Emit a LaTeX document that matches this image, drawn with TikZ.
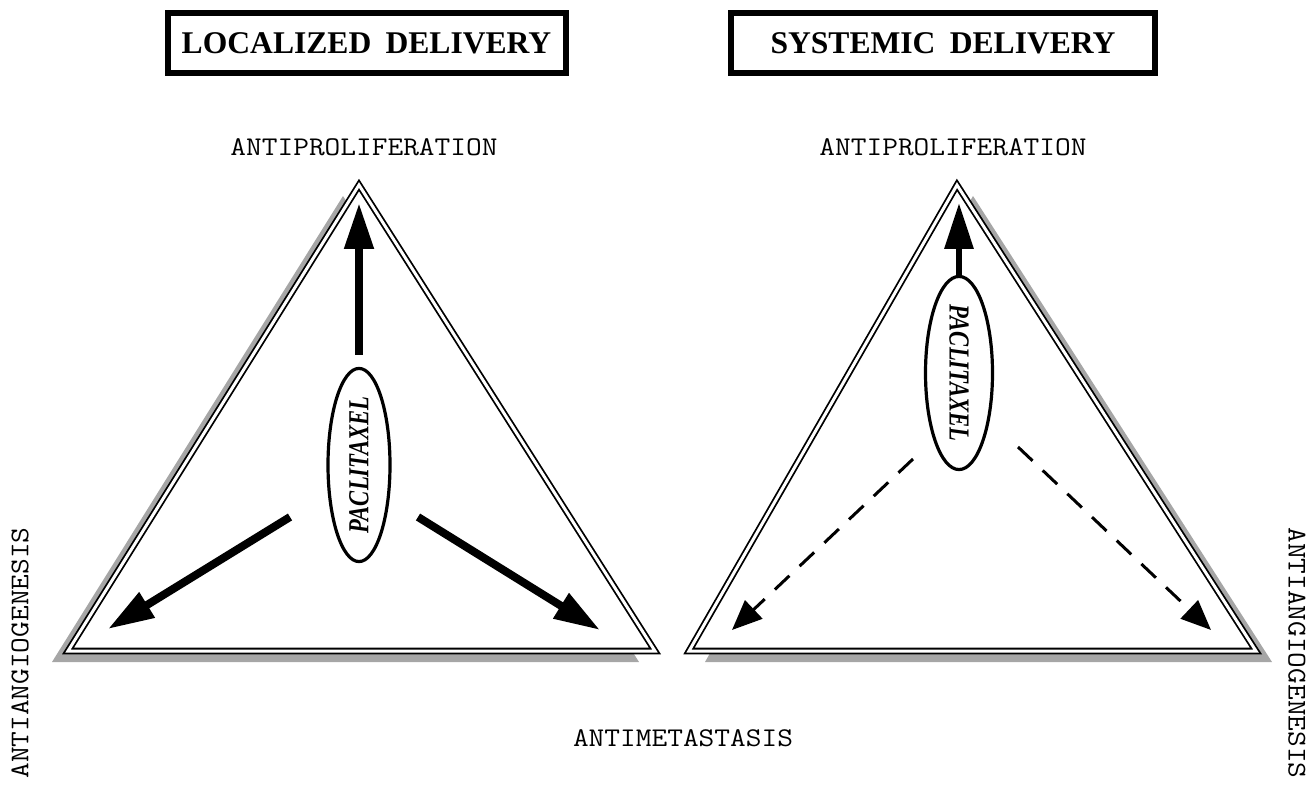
\documentclass[tikz,border=0pt]{standalone}
\usepackage{fontspec}
\setmainfont{Liberation Serif}
\usetikzlibrary{arrows.meta,shapes.geometric}
\tikzstyle{headbox} = [rectangle, draw, line width=3pt, minimum height=30pt, inner sep=0pt, font=\fontsize{15.8}{18}\selectfont\bfseries]
\tikzstyle{axis} = [inner sep=0pt, font=\fontsize{13.5}{16}\selectfont\ttfamily]
\tikzstyle{drug} = [ellipse, draw, line width=1.6pt, fill=white, inner sep=0pt, font=\fontsize{14.5}{16}\selectfont\bfseries\itshape]
\tikzstyle{tri} = [draw, double, double distance=1.5pt, line width=0.9pt, fill=white, line join=miter]
\tikzstyle{shade} = [fill=black!35]
\tikzstyle{strong} = [line width=4pt, -{Triangle[length=23pt,width=14pt]}]
\tikzstyle{weak} = [line width=1.5pt, dash pattern=on 10pt off 7pt, -{Triangle[length=15pt,width=12.5pt]}]

\begin{document}
\begin{tikzpicture}[x=0.5pt,y=0.5pt]
  \useasboundingbox (0,0) rectangle (1312,788);

  % titles
  \node[headbox, minimum width=199pt] (local) at (366.5,745) {LOCALIZED\hspace{0.45em}DELIVERY};
  \node[headbox, minimum width=212pt] (system) at (943,745) {SYSTEMIC\hspace{0.45em}DELIVERY};

  % corners
  \coordinate (topL) at (359,603);
  \coordinate (leftL) at (68,137);
  \coordinate (rightL) at (655,137);
  \coordinate (topR) at (957,603);
  \coordinate (leftR) at (689,137);
  \coordinate (rightR) at (1256,137);

  % triangles with shadow
  \fill[shade] ([shift={(-16,-11)}]topL) -- ([shift={(-16,-11)}]leftL) -- ([shift={(-16,-11)}]rightL) -- cycle;
  \fill[shade] ([shift={(16,-11)}]topR) -- ([shift={(16,-11)}]leftR) -- ([shift={(16,-11)}]rightR) -- cycle;
  \draw[tri] (topL) -- (leftL) -- (rightL) -- cycle;
  \draw[tri] (topR) -- (leftR) -- (rightR) -- cycle;

  % labels
  \node[axis] (proL) at (364,641) {\scalebox{1.13}[1]{ANTIPROLIFERATION}};
  \node[axis] (proR) at (953,641) {\scalebox{1.13}[1]{ANTIPROLIFERATION}};
  \node[axis] (meta) at (683,50) {\scalebox{1.13}[1]{ANTIMETASTASIS}};
  \node[axis, rotate=90] (angL) at (20,135) {\scalebox{1.13}[1]{ANTIANGIOGENESIS}};
  \node[axis, rotate=-90] (angR) at (1297,135) {\scalebox{1.13}[1]{ANTIANGIOGENESIS}};

  % drug
  \node[drug, rotate=90, minimum width=85pt, minimum height=31pt] (pacL) at (359,323) {\scalebox{0.78}[1]{PACLITAXEL}};
  \node[drug, rotate=-90, minimum width=85.5pt, minimum height=33.5pt] (pacR) at (959,415) {\scalebox{0.78}[1]{PACLITAXEL}};

  % arrow ends
  \coordinate (tipL1) at (359,585);
  \coordinate (tailL2) at (290,271);
  \coordinate (tipL2) at (108,159);
  \coordinate (tailL3) at (418,271);
  \coordinate (tipL3) at (600,158);
  \coordinate (tipR1) at (959,585);
  \coordinate (tailR2) at (913,329);
  \coordinate (tipR2) at (732,158);
  \coordinate (tailR3) at (1018,341);
  \coordinate (tipR3) at (1211,158);

  \draw[strong, shorten <=6pt] (pacL.east) -- (tipL1);
  \draw[strong] (tailL2) -- (tipL2);
  \draw[strong] (tailL3) -- (tipL3);
  \draw[strong, line width=3.2pt] (pacR.west) -- (tipR1);
  \draw[weak] (tailR2) -- (tipR2);
  \draw[weak] (tailR3) -- (tipR3);
\end{tikzpicture}
\end{document}
